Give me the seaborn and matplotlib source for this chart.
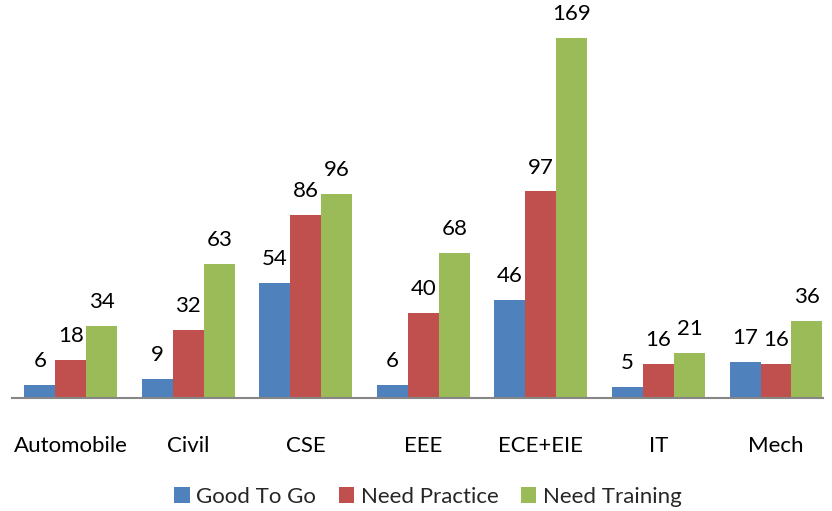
import pandas as pd
import matplotlib
matplotlib.use("Agg")
import matplotlib.pyplot as plt
import seaborn as sns

# Chart data
departments = ["Automobile", "Civil", "CSE", "EEE", "ECE+EIE", "IT", "Mech"]
good_to_go = [6, 9, 54, 6, 46, 5, 17]
need_practice = [18, 32, 86, 40, 97, 16, 16]
need_training = [34, 63, 96, 68, 169, 21, 36]
series_names = ["Good To Go", "Need Practice", "Need Training"]
colors = ["#4F81BD", "#C0504D", "#9BBB59"]

rows = []
for name, vals in zip(series_names, [good_to_go, need_practice, need_training]):
    for dept, v in zip(departments, vals):
        rows.append({"Department": dept, "Status": name, "Count": v})
df = pd.DataFrame(rows)

sns.set_theme(style="white")
plt.rcParams['font.family'] = ['Lato', 'DejaVu Sans']

fig = plt.figure(figsize=(8.32, 5.11), dpi=100)
ax = fig.add_axes([12 / 832, 113 / 511, 811 / 832, 1 - 113 / 511])

sns.barplot(data=df, x="Department", y="Count", hue="Status", order=departments,
            hue_order=series_names, palette=colors, width=0.79, saturation=1,
            edgecolor="none", ax=ax)

# Value labels above bars
for container in ax.containers:
    ax.bar_label(container, padding=10, fontsize=16, color="#000000")

ax.set_ylim(0, 398 / 2.13)
ax.set_xlim(-0.5, 6.4)
ax.set_xlabel("")
ax.set_ylabel("")
ax.set_yticks([])
ax.tick_params(axis="x", length=0, labelsize=16, pad=27, colors="#000000")
for side in ["top", "right", "left"]:
    ax.spines[side].set_visible(False)
ax.spines["bottom"].set_color("#868686")
ax.spines["bottom"].set_linewidth(1.5)

handles, labels = ax.get_legend_handles_labels()
ax.get_legend().remove()
fig.legend(handles, labels, loc="center", bbox_to_anchor=(428 / 832, 1 - 497 / 511), ncol=3,
           frameon=False, fontsize=16, handlelength=0.7, handleheight=0.7,
           handletextpad=0.3, columnspacing=1.0)

fig.savefig("out.png", dpi=100)
plt.close(fig)
